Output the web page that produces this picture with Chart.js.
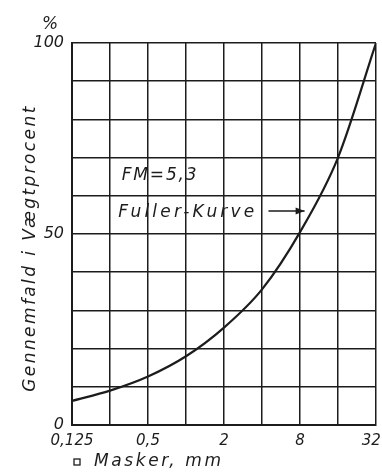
<!DOCTYPE html>
<html>
<head>
<meta charset="utf-8">
<script src="https://cdn.jsdelivr.net/npm/chart.js@4"></script>
<style>
    html, body { margin: 0; padding: 0; background: #ffffff; }
    #wrap { width: 382px; height: 473px; position: relative; }
</style>
</head>
<body>
<div id="wrap"><canvas id="sieveChart"></canvas></div>
<script>
// Sigtekurve (Fuller-kurve) – gennemfald i vægtprocent over maskestørrelse

// maskestørrelser i mm (logaritmisk akse, fordobling pr. felt)
const sieveSizes = [0.125, 0.25, 0.5, 1, 2, 4, 8, 16, 32];
// aflæst gennemfald i %
const passingPct = [6.3, 9, 12.7, 18, 25.5, 35.5, 50.5, 70, 100];
// akse-etiketter
const xTickLabels = { 0.125: '0,125', 0.5: '0,5', 2: '2', 8: '8', 32: '32\u00a0\u00a0' };
const yTickLabels = { 0: '0', 50: '50', 100: '100' };

const INK = '#1c1c1c';
const FONT = '"DejaVu Sans", sans-serif';

// tekster og pil tegnet i dataværdier
const notes = [
    { text: '%', x: 0.125, y: 104.8, dx: -30, size: 17, spacing: 0 },
    { text: 'FM=5,3', x: 0.31, y: 65.2, dx: 0, size: 17, spacing: 1.8 },
    { text: 'Fuller-Kurve', x: 0.29, y: 55.6, dx: 0, size: 17, spacing: 3.2 }
];
const arrow = { from: [4.5, 56], to: [8.7, 56] };

const notesPlugin = {
    id: 'notes',
    afterDraw(chart) {
        const ctx = chart.ctx;
        const xs = chart.scales.x;
        const ys = chart.scales.y;
        const area = chart.chartArea;
        ctx.save();
        ctx.fillStyle = INK;
        ctx.strokeStyle = INK;
        ctx.textBaseline = 'middle';
        ctx.textAlign = 'left';
        notes.forEach(n => {
            ctx.font = 'italic ' + n.size + 'px ' + FONT;
            ctx.letterSpacing = n.spacing + 'px';
            ctx.fillText(n.text, xs.getPixelForValue(n.x) + n.dx, ys.getPixelForValue(n.y));
        });

        // pil mod kurven
        const x1 = xs.getPixelForValue(arrow.from[0]);
        const x2 = xs.getPixelForValue(arrow.to[0]);
        const y1 = ys.getPixelForValue(arrow.from[1]);
        ctx.lineWidth = 1.5;
        ctx.beginPath();
        ctx.moveTo(x1, y1);
        ctx.lineTo(x2, y1);
        ctx.stroke();
        ctx.beginPath();
        ctx.moveTo(x2, y1);
        ctx.lineTo(x2 - 9, y1 - 3.5);
        ctx.lineTo(x2 - 9, y1 + 3.5);
        ctx.closePath();
        ctx.fill();

        // x-aksens titel
        ctx.letterSpacing = '0px';
        ctx.lineWidth = 1.3;
        ctx.strokeRect(area.left + 2, area.bottom + 34, 6, 6);
        ctx.font = 'italic 17px ' + FONT;
        ctx.letterSpacing = '2.6px';
        ctx.fillText('Masker, mm', area.left + 22, area.bottom + 37);

        // y-aksens titel (lodret)
        ctx.translate(31, (area.top + area.bottom) / 2 + 14);
        ctx.rotate(-Math.PI / 2);
        ctx.textAlign = 'center';
        ctx.letterSpacing = '2.4px';
        ctx.fillText('Gennemfald i Vægtprocent', 0, 0);
        ctx.restore();
    }
};

const ctx = document.getElementById('sieveChart').getContext('2d');

new Chart(ctx, {
    type: 'line',
    data: {
        datasets: [{
            label: 'Fuller-Kurve',
            data: sieveSizes.map((s, i) => ({ x: s, y: passingPct[i] })),
            borderColor: INK,
            borderWidth: 2.2,
            pointRadius: 0,
            cubicInterpolationMode: 'monotone',
            fill: false
        }]
    },
    options: {
        responsive: true,
        maintainAspectRatio: false,
        animation: false,
        layout: {
            autoPadding: false,
            padding: { top: 43, right: 6, left: 0, bottom: 0 }
        },
        plugins: {
            legend: { display: false },
            tooltip: { enabled: false }
        },
        scales: {
            x: {
                type: 'logarithmic',
                min: 0.125,
                max: 32,
                afterBuildTicks(scale) {
                    scale.ticks = sieveSizes.map(v => ({ value: v }));
                },
                afterFit(scale) {
                    scale.height = 48;
                    scale.paddingLeft = 0;
                    scale.paddingRight = 0;
                },
                border: { color: INK, width: 2 },
                grid: {
                    color: INK,
                    lineWidth: 1.5,
                    drawTicks: false
                },
                ticks: {
                    autoSkip: false,
                    maxRotation: 0,
                    padding: 7,
                    color: INK,
                    font: { family: FONT, style: 'italic', size: 15 },
                    callback: function(value) {
                        return xTickLabels[value] || '';
                    }
                }
            },
            y: {
                min: 0,
                max: 100,
                afterFit(scale) {
                    scale.width = 72;
                    scale.paddingTop = 0;
                    scale.paddingBottom = 0;
                },
                border: { color: INK, width: 2 },
                grid: {
                    color: INK,
                    lineWidth: 1.5,
                    drawTicks: false
                },
                ticks: {
                    stepSize: 10,
                    padding: 8,
                    color: INK,
                    font: { family: FONT, style: 'italic', size: 16 },
                    callback: function(value) {
                        return yTickLabels[value] || '';
                    }
                }
            }
        }
    },
    plugins: [notesPlugin]
});
</script>
</body>
</html>
